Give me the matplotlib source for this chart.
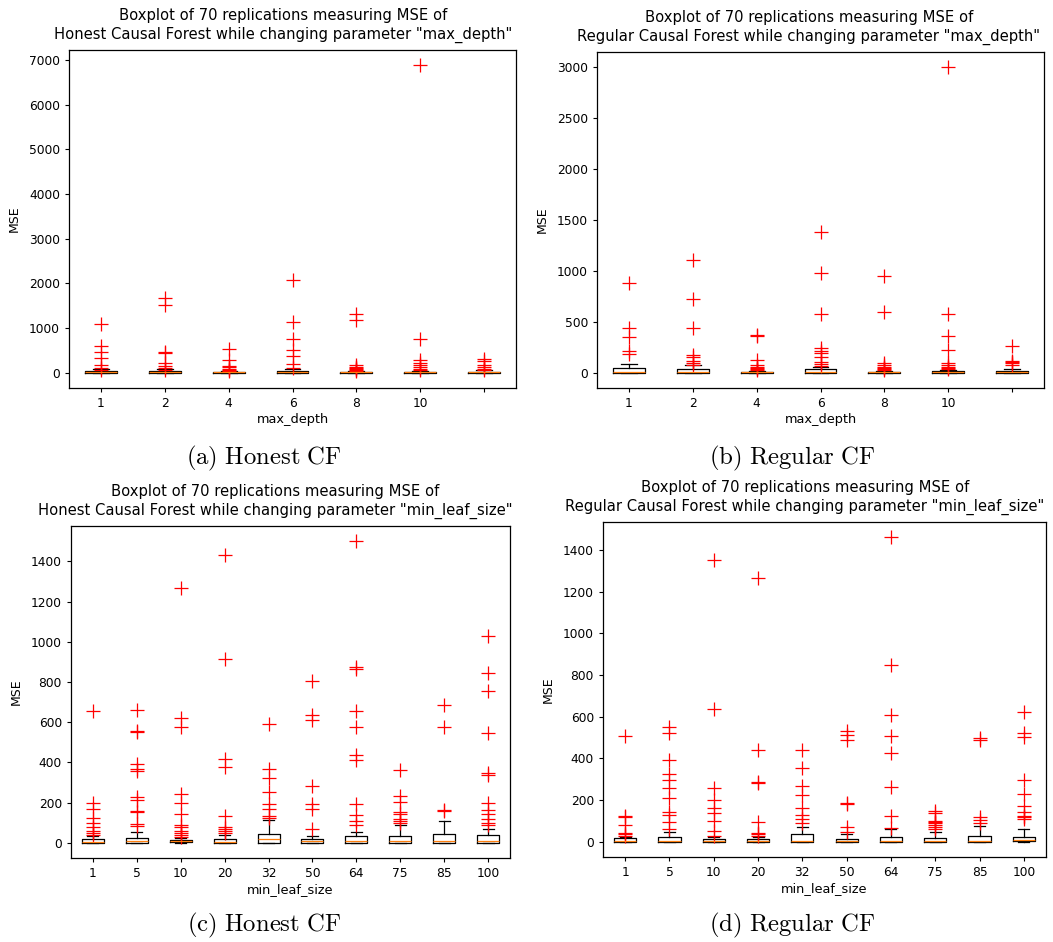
import matplotlib
matplotlib.use('Agg')
import matplotlib.pyplot as plt

# x categories
depth_labels = ['1', '2', '4', '6', '8', '10', '']
leaf_labels = ['1', '5', '10', '20', '32', '50', '64', '75', '85', '100']

# (a) Honest CF, max_depth
a_q1 = [2, 2, 1, 2, 1, 1, 1]
a_med = [10, 12, 6, 10, 5, 6, 5]
a_q3 = [35, 40, 20, 35, 15, 20, 20]
a_whi = [80, 85, 45, 90, 35, 45, 50]
a_fliers = [
    [1090, 590, 470, 320, 170, 100, 60],
    [1665, 1515, 470, 440, 210, 150, 100, 70],
    [530, 284, 150, 120, 90, 60, 40],
    [2075, 1127, 754, 508, 373, 187, 100],
    [1307, 1180, 180, 130, 100, 80, 60, 40],
    [6880, 760, 280, 220, 170, 130, 90, 60],
    [300, 250, 180, 130, 90, 60],
]

# (b) Regular CF, max_depth
b_q1 = [1, 1, 1, 1, 1, 1, 1]
b_med = [5, 5, 3, 5, 3, 4, 4]
b_q3 = [43, 40, 10, 33, 10, 20, 20]
b_whi = [85, 75, 20, 59, 20, 30, 35]
b_fliers = [
    [879, 436, 354, 216, 184],
    [1108, 721, 436, 174, 150, 120, 100, 80],
    [370, 360, 125, 80, 60, 50, 40, 30],
    [1387, 977, 577, 240, 215, 190, 150, 110, 90, 70],
    [951, 593, 100, 80, 60, 50, 40, 30],
    [3000, 577, 360, 223, 100, 80, 60, 50, 40],
    [262, 120, 110, 100, 80],
]

# (c) Honest CF, min_leaf_size
c_q1 = [1, 1, 5, 1, 2, 1, 1, 1, 2, 2]
c_med = [3, 8, 10, 5, 18, 8, 8, 8, 10, 10]
c_q3 = [18, 25, 15, 20, 45, 20, 35, 35, 45, 40]
c_whi = [33, 55, 25, 40, 113, 35, 55, 88, 109, 71]
c_fliers = [
    [654, 199, 171, 124, 100, 80, 60, 50, 40],
    [659, 555, 550, 394, 370, 358, 229, 212, 159, 155, 93, 85],
    [1269, 623, 577, 245, 200, 142, 90, 80, 60, 50, 40, 30],
    [1430, 916, 419, 378, 133, 80, 70, 60, 50],
    [590, 369, 325, 253, 195, 171, 133, 125],
    [805, 638, 610, 283, 195, 171, 71],
    [1501, 875, 865, 654, 577, 436, 411, 192, 137, 110, 90],
    [361, 232, 204, 154, 145, 120, 110, 100],
    [684, 577, 166, 160],
    [1027, 847, 755, 547, 348, 340, 200, 165, 146, 120, 100, 90],
]

# (d) Regular CF, min_leaf_size
d_q1 = [1, 1, 1, 1, 1, 1, 1, 1, 1, 2]
d_med = [4, 5, 4, 4, 5, 4, 4, 4, 4, 8]
d_q3 = [16, 24, 14, 14, 37, 15, 25, 20, 29, 24]
d_whi = [25, 48, 25, 25, 72, 37, 59, 48, 77, 59]
d_fliers = [
    [506, 124, 120, 80, 40, 35, 30],
    [549, 522, 393, 326, 294, 260, 212, 144, 130, 93, 60],
    [1354, 637, 260, 201, 161, 136, 100, 50, 30],
    [1265, 441, 289, 280, 93, 40, 35, 30],
    [441, 353, 268, 225, 161, 128, 110, 90],
    [530, 510, 486, 188, 180, 72, 45],
    [1461, 846, 610, 506, 425, 265, 124, 65],
    [149, 140, 100, 95, 90, 80, 70, 60],
    [498, 490, 120, 105, 90],
    [621, 522, 505, 294, 230, 172, 145, 125, 120, 110],
]

W, H = 1053, 942
plt.rcParams['mathtext.fontset'] = 'cm'
fig = plt.figure(figsize=(W / 100, H / 100), dpi=100)


def make_box(px, q1, med, q3, whi, fliers, labels, title, title_x, xlabel, caption, cap_xy):
    l, r, t, b = px
    ax = fig.add_axes([l / W, (H - b) / H, (r - l) / W, (b - t) / H])
    stats = []
    for i in range(len(med)):
        stats.append(dict(med=med[i], q1=q1[i], q3=q3[i], whislo=0,
                          whishi=whi[i], fliers=fliers[i]))
    ax.bxp(stats, widths=0.5,
           boxprops=dict(lw=0.9, color='black'),
           whiskerprops=dict(lw=0.9),
           capprops=dict(lw=0.9),
           medianprops=dict(color='#ff7f0e', lw=0.9),
           flierprops=dict(marker='+', markeredgecolor='red',
                           markersize=10, markeredgewidth=0.9))
    ax.set_xticks(range(1, len(labels) + 1))
    ax.set_xticklabels(labels)
    ax.tick_params(labelsize=8.8, length=3)
    ax.set_ylabel('MSE', fontsize=9, labelpad=6)
    ax.set_xlabel(xlabel, fontsize=9.3, labelpad=2)
    ax.set_title(title, fontsize=10.6, pad=8, x=title_x, linespacing=1.3)
    for s in ax.spines.values():
        s.set_linewidth(0.9)
    fig.text(cap_xy[0] / W, 1 - cap_xy[1] / H, caption, fontsize=17.8,
             ha='center', va='center')
    return ax


t1 = 'Boxplot of 70 replications measuring MSE of\n'
make_box((69, 516, 50, 388), a_q1, a_med, a_q3, a_whi, a_fliers, depth_labels,
         t1 + 'Honest Causal Forest while changing parameter "max_depth"', 0.479,
         'max_depth', r'$\mathrm{(a)\ Honest\ CF}$', (264, 458))
make_box((597, 1044, 52, 388), b_q1, b_med, b_q3, b_whi, b_fliers, depth_labels,
         t1 + 'Regular Causal Forest while changing parameter "max_depth"', 0.474,
         'max_depth', r'$\mathrm{(b)\ Regular\ CF}$', (792, 458))
make_box((71, 510, 526, 858), c_q1, c_med, c_q3, c_whi, c_fliers, leaf_labels,
         t1 + 'Honest Causal Forest while changing parameter "min_leaf_size"', 0.465,
         'min_leaf_size', r'$\mathrm{(c)\ Honest\ CF}$', (264, 925))
make_box((603, 1046, 522, 857), d_q1, d_med, d_q3, d_whi, d_fliers, leaf_labels,
         t1 + 'Regular Causal Forest while changing parameter "min_leaf_size"', 0.456,
         'min_leaf_size', r'$\mathrm{(d)\ Regular\ CF}$', (792, 925))

fig.savefig('out.png', dpi=100)
